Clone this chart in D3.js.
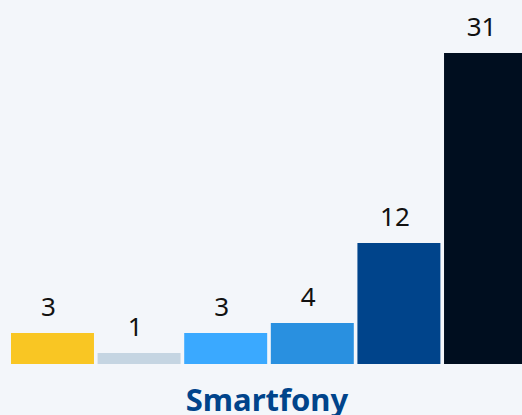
<!DOCTYPE html>
<html>
<head>
<meta charset="utf-8">
<script src="https://cdn.jsdelivr.net/npm/d3@7"></script>
<style>
  body { margin: 0; background: #f3f6fa; }
  svg { display: block; }
</style>
</head>
<body>
<script>
// data
var groupLabel = "Smartfony";
var categories = ["s1", "s2", "s3", "s4", "s5", "s6"];
var values = [3, 1, 3, 4, 12, 31];
var colors = ["#f9c623", "#c5d5e2", "#3aa9ff", "#2990e0", "#00448b", "#000e1f"];

var w = 522, h = 415;
var base = 364;

var svg = d3.select("body").append("svg")
  .attr("width", w)
  .attr("height", h);

svg.append("rect").attr("width", w).attr("height", h).attr("fill", "#f3f6fa");

var x = d3.scaleBand()
  .domain(categories)
  .range([11, 527])
  .paddingInner(0.042)
  .paddingOuter(0);

var y = d3.scaleLinear()
  .domain([0, 31])
  .range([363, 53]);

svg.selectAll("rect.bar")
  .data(values)
  .enter()
  .append("rect")
  .attr("class", "bar")
  .attr("x", function(d, i) { return x(categories[i]); })
  .attr("y", function(d) { return y(d); })
  .attr("width", x.bandwidth())
  .attr("height", function(d) { return base - y(d); })
  .attr("fill", function(d, i) { return colors[i]; });

svg.selectAll("text.val")
  .data(values)
  .enter()
  .append("text")
  .attr("class", "val")
  .text(function(d) { return d; })
  .attr("text-anchor", "middle")
  .attr("x", function(d, i) { return x(categories[i]) + x.bandwidth() / 2 - 4; })
  .attr("y", function(d) { return y(d) - 17; })
  .attr("font-family", "Noto Sans")
  .attr("font-size", "26px")
  .attr("fill", "#111");

svg.append("text")
  .text(groupLabel)
  .attr("text-anchor", "middle")
  .attr("x", 267)
  .attr("y", 411)
  .attr("font-family", "Noto Sans")
  .attr("font-weight", "bold")
  .attr("font-size", "31px")
  .attr("fill", "#00448b");
</script>
</body>
</html>
